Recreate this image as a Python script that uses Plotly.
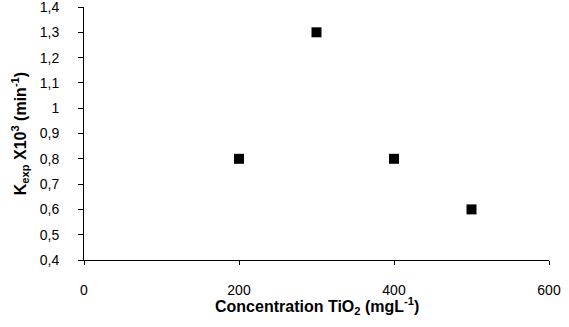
import plotly.graph_objects as go

concentration = [200, 300, 400, 500]
k_exp = [0.8, 1.3, 0.8, 0.6]
y_ticks = [0.4, 0.5, 0.6, 0.7, 0.8, 0.9, 1.0, 1.1, 1.2, 1.3, 1.4]
y_tick_text = ["0,4", "0,5", "0,6", "0,7", "0,8", "0,9", "1", "1,1", "1,2", "1,3", "1,4"]
x_ticks = [0, 200, 400, 600]
x_title = "<b>Concentration TiO<sub>2</sub> (mgL<sup>-1</sup>)</b>"
y_title = "<b>K<sub>exp</sub> X10<sup>3</sup> (min<sup>-1</sup>)</b>"

fig = go.Figure()
fig.add_trace(go.Scatter(
    x=concentration, y=k_exp, mode="markers",
    marker=dict(symbol="square", size=10, color="black"),
    showlegend=False, cliponaxis=False,
))

tickfont = dict(family="Liberation Sans, Arial, sans-serif", size=14, color="black")
titlefont = dict(family="Liberation Sans, Arial, sans-serif", size=16, color="black")

fig.update_layout(
    width=569, height=327,
    margin=dict(l=84, r=20, t=7, b=67),
    paper_bgcolor="white", plot_bgcolor="white",
    font=tickfont,
    xaxis=dict(
        range=[0, 600], tickmode="array", tickvals=x_ticks,
        showline=True, linecolor="black", linewidth=1,
        ticks="outside", ticklen=4, tickcolor="black",
        showgrid=False, zeroline=False, automargin=False,
        ticklabelstandoff=13, tickfont=tickfont, ticklabeloverflow="allow",
    ),
    yaxis=dict(
        range=[0.4, 1.4], tickmode="array", tickvals=y_ticks, ticktext=y_tick_text,
        showline=True, linecolor="black", linewidth=1,
        ticks="outside", ticklen=5, tickcolor="black",
        showgrid=False, zeroline=False, automargin=False,
        ticklabelstandoff=16, tickfont=tickfont, ticklabeloverflow="allow",
    ),
    annotations=[
        dict(text=x_title, xref="paper", yref="paper", x=0.5, y=-0.18,
             xanchor="center", yanchor="middle", showarrow=False, font=titlefont),
        dict(text=y_title, xref="paper", yref="paper", x=-0.138, y=0.5,
             xanchor="center", yanchor="middle", textangle=-90, showarrow=False, font=titlefont),
    ],
)

fig.write_html("out.html", config={"displayModeBar": False},
               post_script="document.body.style.margin='0';")
